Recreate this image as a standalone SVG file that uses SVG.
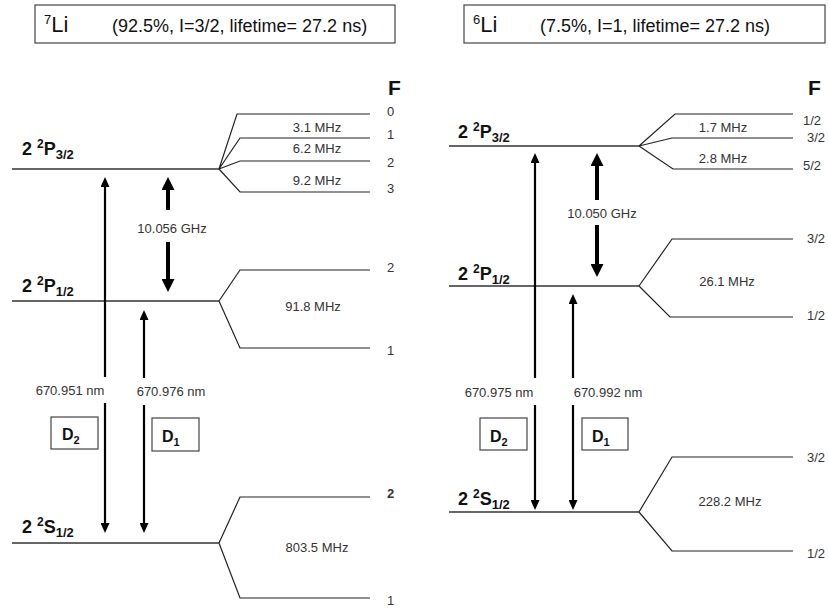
<svg xmlns="http://www.w3.org/2000/svg" width="829" height="610" viewBox="0 0 829 610">
<style>
text{font-family:"Liberation Sans",Arial,sans-serif;}
.title{font-size:18px;fill:#111;}
.iso{font-size:22px;fill:#111;}
.isosup{font-size:13px;}
.lvl{font-size:18px;font-weight:bold;fill:#111;}
.sm{font-size:13px;fill:#333;}
.mid{text-anchor:middle;}
.F{font-size:21px;font-weight:bold;fill:#111;}
.D{font-size:16px;font-weight:bold;fill:#111;}
.box{fill:#fff;stroke:#444;stroke-width:1.2;}
.level{stroke:#333;stroke-width:1.4;fill:none;}
.hf{stroke:#222;stroke-width:1.2;fill:none;}
.thin{stroke:#000;stroke-width:2.2;marker-end:url(#ah);}
.thick{stroke:#000;stroke-width:4;marker-end:url(#ahB);}
</style>
<defs>
<marker id="ah" markerUnits="userSpaceOnUse" markerWidth="10" markerHeight="9" refX="3" refY="4.5" orient="auto-start-reverse">
<path d="M0,0 L10,4.5 L0,9 z" fill="#000"/>
</marker>
<marker id="ahB" markerUnits="userSpaceOnUse" markerWidth="13" markerHeight="13" refX="4" refY="6.5" orient="auto-start-reverse">
<path d="M0,0 L13,6.5 L0,13 z" fill="#000"/>
</marker>
</defs>
<rect width="829" height="610" fill="#fff"/>

<!-- Titles -->
<g id="title7">
<rect class="box" x="35" y="5" width="360" height="38"/>
<text class="iso" x="44" y="32"><tspan class="isosup" dy="-8">7</tspan><tspan dy="8">Li</tspan></text>
<text class="title" x="112" y="32">(92.5%, I=3/2, lifetime= 27.2 ns)</text>
</g>
<g id="title6">
<rect class="box" x="464" y="5" width="361" height="38"/>
<text class="iso" x="473" y="32"><tspan class="isosup" dy="-8">6</tspan><tspan dy="8">Li</tspan></text>
<text class="title" x="540" y="32">(7.5%, I=1, lifetime= 27.2 ns)</text>
</g>

<!-- Li-7 -->
<g id="li7-P32">
<line class="level" x1="12" y1="169" x2="219" y2="169"/>
<text class="lvl" x="22" y="155">2 <tspan font-size="12" dy="-7">2</tspan><tspan dy="7">P</tspan><tspan font-size="13" dy="4">3/2</tspan></text>
<path class="hf" d="M219,169 L237,114 H370 M219,169 L240,138 H370 M219,169 L240,161 H370 M219,169 L240,192 H370"/>
<text class="F" x="388" y="95">F</text>
<text class="sm" x="387" y="116">0</text>
<text class="sm" x="387" y="139">1</text>
<text class="sm" x="387" y="167">2</text>
<text class="sm" x="387" y="193">3</text>
<text class="sm mid" x="317" y="132">3.1 MHz</text>
<text class="sm mid" x="317" y="153">6.2 MHz</text>
<text class="sm mid" x="317" y="185">9.2 MHz</text>
</g>
<g id="li7-P12">
<line class="level" x1="12" y1="301" x2="219" y2="301"/>
<text class="lvl" x="22" y="292">2 <tspan font-size="12" dy="-7">2</tspan><tspan dy="7">P</tspan><tspan font-size="13" dy="4">1/2</tspan></text>
<path class="hf" d="M219,301 L240,270 H370 M219,301 L240,348 H370"/>
<text class="sm" x="387" y="272">2</text>
<text class="sm" x="387" y="355">1</text>
<text class="sm mid" x="313" y="311">91.8 MHz</text>
</g>
<g id="li7-S12">
<line class="level" x1="12" y1="543" x2="219" y2="543"/>
<text class="lvl" x="22" y="533">2 <tspan font-size="12" dy="-7">2</tspan><tspan dy="7">S</tspan><tspan font-size="13" dy="4">1/2</tspan></text>
<path class="hf" d="M219,543 L240,497 H370 M219,543 L240,598 H370"/>
<text class="sm" x="387" y="498" font-weight="bold">2</text>
<text class="sm" x="387" y="605">1</text>
<text class="sm mid" x="317" y="552">803.5 MHz</text>
</g>
<g id="li7-labels">
<text class="sm mid" x="172" y="233">10.056 GHz</text>
<text class="sm mid" x="70" y="395">670.951 nm</text>
<text class="sm mid" x="171" y="396">670.976 nm</text>
<rect class="box" x="51" y="417" width="47" height="32"/>
<text class="D" x="62" y="440">D<tspan font-size="11" dy="4">2</tspan></text>
<rect class="box" x="152" y="418" width="47" height="33"/>
<text class="D" x="162" y="442">D<tspan font-size="11" dy="4">1</tspan></text>
</g>

<!-- Li-6 -->
<g id="li6-P32">
<line class="level" x1="449" y1="146" x2="639" y2="146"/>
<text class="lvl" x="458" y="138">2 <tspan font-size="12" dy="-7">2</tspan><tspan dy="7">P</tspan><tspan font-size="13" dy="4">3/2</tspan></text>
<path class="hf" d="M639,146 L675,114 H793 M639,146 L672,138 H793 M639,146 L673,169 H793"/>
<text class="F" x="808" y="95">F</text>
<text class="sm" x="803" y="125">1/2</text>
<text class="sm" x="807" y="142">3/2</text>
<text class="sm" x="803" y="170">5/2</text>
<text class="sm mid" x="723" y="132">1.7 MHz</text>
<text class="sm mid" x="723" y="163">2.8 MHz</text>
</g>
<g id="li6-P12">
<line class="level" x1="449" y1="286" x2="639" y2="286"/>
<text class="lvl" x="458" y="280">2 <tspan font-size="12" dy="-7">2</tspan><tspan dy="7">P</tspan><tspan font-size="13" dy="4">1/2</tspan></text>
<path class="hf" d="M639,286 L672,239 H793 M639,286 L670,317 H793"/>
<text class="sm" x="807" y="243">3/2</text>
<text class="sm" x="807" y="320">1/2</text>
<text class="sm mid" x="727" y="286">26.1 MHz</text>
</g>
<g id="li6-S12">
<line class="level" x1="449" y1="512" x2="639" y2="512"/>
<text class="lvl" x="458" y="505">2 <tspan font-size="12" dy="-7">2</tspan><tspan dy="7">S</tspan><tspan font-size="13" dy="4">1/2</tspan></text>
<path class="hf" d="M639,512 L672,457 H793 M639,512 L672,551 H793"/>
<text class="sm" x="807" y="462">3/2</text>
<text class="sm" x="807" y="558">1/2</text>
<text class="sm mid" x="730" y="506">228.2 MHz</text>
</g>
<g id="li6-labels">
<text class="sm mid" x="602" y="218">10.050 GHz</text>
<text class="sm mid" x="499" y="397">670.975 nm</text>
<text class="sm mid" x="608" y="397">670.992 nm</text>
<rect class="box" x="480" y="418" width="47" height="32"/>
<text class="D" x="490" y="442">D<tspan font-size="11" dy="4">2</tspan></text>
<rect class="box" x="582" y="418" width="46" height="32"/>
<text class="D" x="592" y="442">D<tspan font-size="11" dy="4">1</tspan></text>
</g>

<!-- Connectors -->
<g id="connectors">
<line class="thin" x1="105" y1="377" x2="105" y2="184"/>
<line class="thin" x1="105" y1="403" x2="105" y2="526"/>
<line class="thin" x1="144" y1="378" x2="144" y2="317"/>
<line class="thin" x1="144" y1="405" x2="144" y2="526"/>
<line class="thick" x1="168" y1="210" x2="168" y2="186"/>
<line class="thick" x1="168" y1="242" x2="168" y2="283"/>
<line class="thin" x1="535" y1="378" x2="535" y2="160"/>
<line class="thin" x1="535" y1="405" x2="535" y2="503"/>
<line class="thin" x1="573" y1="378" x2="573" y2="301"/>
<line class="thin" x1="573" y1="405" x2="573" y2="503"/>
<line class="thick" x1="597" y1="200" x2="597" y2="162"/>
<line class="thick" x1="597" y1="225" x2="597" y2="268"/>
</g>
</svg>
